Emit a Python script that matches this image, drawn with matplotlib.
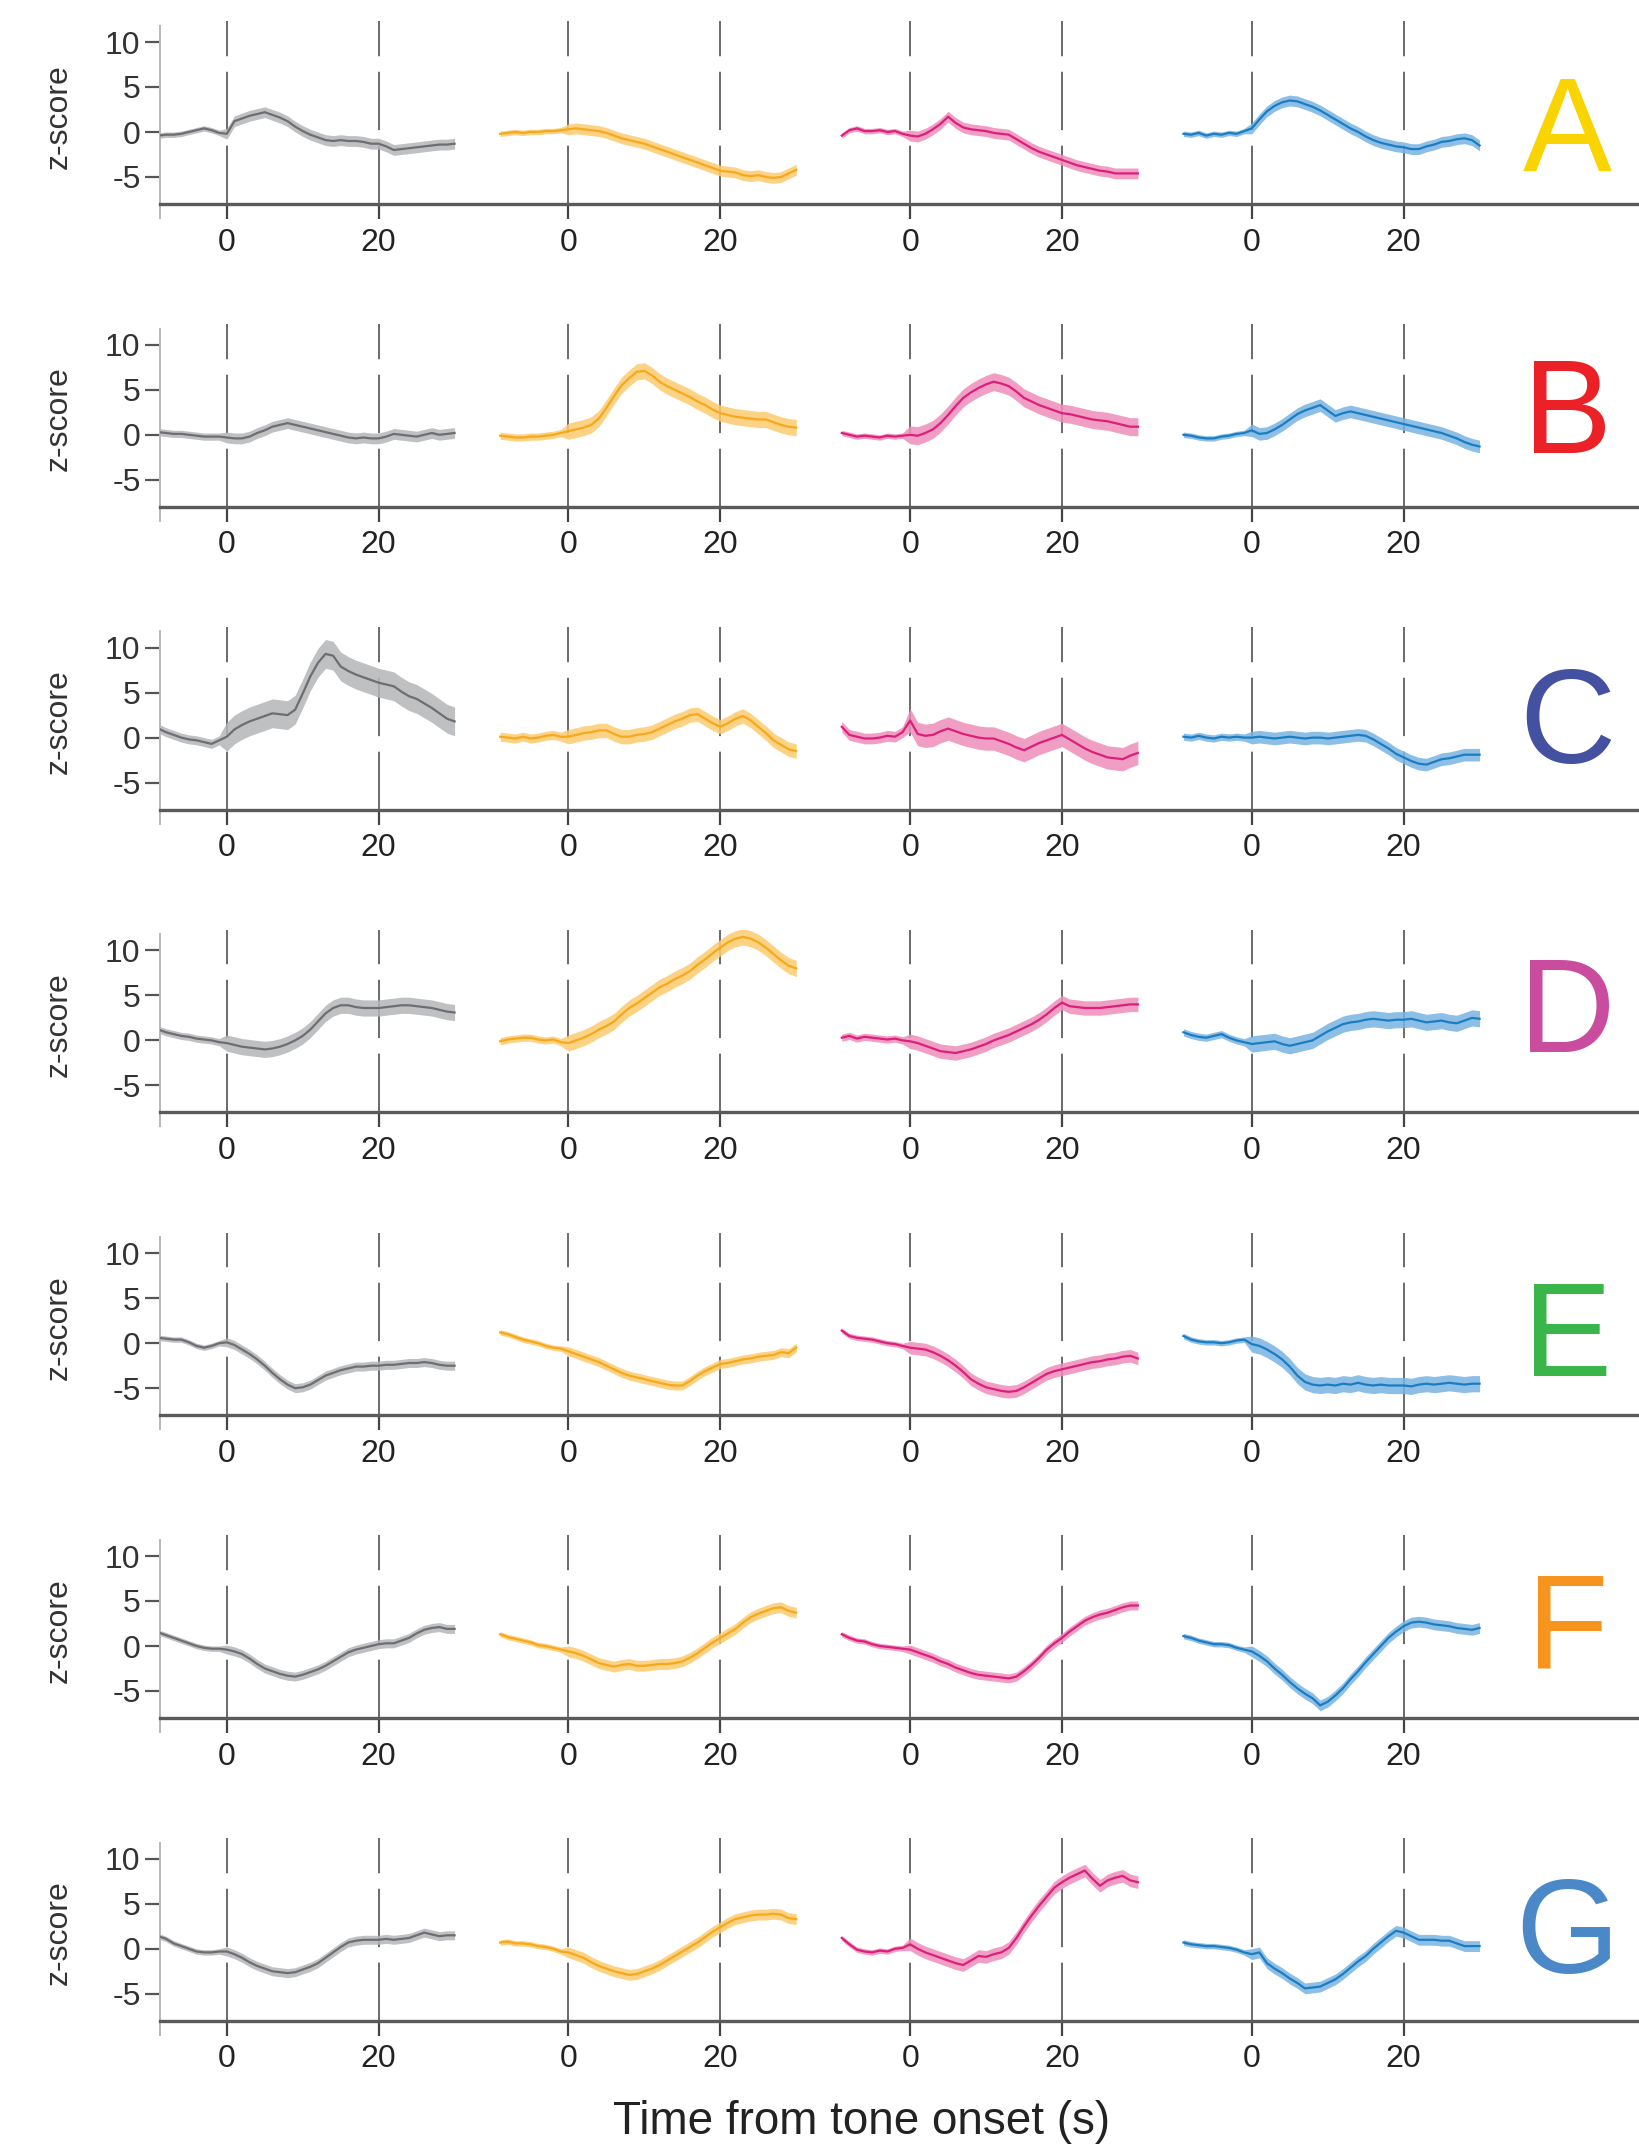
#!/usr/bin/env python3

import numpy as np
import matplotlib
matplotlib.use("Agg")
import matplotlib.pyplot as plt

plt.rcParams['font.family'] = ['Liberation Sans Narrow', 'Liberation Sans', 'DejaVu Sans']

# time axis of every trace (s from tone onset)
time_s = np.arange(-9, 31)

# mean z-score traces at 1 s steps (-9 .. 30)
gray_A = [-0.4, -0.3, -0.3, -0.2, 0.0, 0.2, 0.4, 0.2, -0.1, -0.2,
          1.2, 1.5, 1.8, 2.0, 2.2, 1.9, 1.6, 1.2, 0.6, 0.1,
          -0.3, -0.6, -0.9, -1.0, -0.9, -1.0, -1.0, -1.1, -1.3, -1.3,
          -1.6, -2.0, -1.9, -1.8, -1.7, -1.6, -1.5, -1.4, -1.4, -1.3]
yellow_A = [-0.2, -0.1, 0.0, -0.1, 0.0, 0.0, 0.1, 0.1, 0.2, 0.3,
            0.4, 0.3, 0.2, 0.1, -0.1, -0.4, -0.7, -0.9, -1.1, -1.3,
            -1.6, -1.9, -2.2, -2.5, -2.8, -3.1, -3.4, -3.7, -4.0, -4.3,
            -4.4, -4.5, -4.8, -4.9, -4.8, -5.0, -5.1, -5.0, -4.6, -4.2]
magenta_A = [-0.4, 0.2, 0.4, 0.1, 0.1, 0.2, 0.0, 0.1, -0.2, -0.4,
             -0.5, -0.2, 0.3, 0.9, 1.7, 1.0, 0.5, 0.3, 0.2, 0.1,
             -0.1, -0.2, -0.3, -0.8, -1.3, -1.8, -2.2, -2.5, -2.8, -3.1,
             -3.4, -3.7, -3.9, -4.1, -4.3, -4.4, -4.6, -4.6, -4.6, -4.6]
blue_A = [-0.2, -0.3, -0.1, -0.4, -0.2, -0.3, -0.1, -0.2, 0.1, 0.4,
          1.4, 2.3, 2.9, 3.3, 3.5, 3.4, 3.1, 2.8, 2.4, 1.9,
          1.4, 0.9, 0.4, 0.0, -0.5, -0.9, -1.2, -1.4, -1.6, -1.7,
          -1.9, -1.9, -1.6, -1.4, -1.1, -1.0, -0.8, -0.7, -0.9, -1.5]

gray_B = [0.3, 0.2, 0.1, 0.1, 0.0, -0.1, -0.2, -0.2, -0.2, -0.3,
          -0.4, -0.4, -0.2, 0.2, 0.5, 0.9, 1.1, 1.3, 1.1, 0.9,
          0.7, 0.5, 0.3, 0.1, -0.1, -0.3, -0.4, -0.3, -0.4, -0.4,
          -0.2, 0.1, 0.0, -0.1, -0.2, 0.0, 0.2, 0.0, 0.1, 0.2]
yellow_B = [-0.1, -0.2, -0.3, -0.3, -0.2, -0.2, -0.1, 0.0, 0.2, 0.4,
            0.6, 0.8, 1.1, 1.8, 3.0, 4.3, 5.5, 6.3, 7.0, 7.1,
            6.6, 5.9, 5.4, 5.0, 4.6, 4.2, 3.7, 3.3, 2.8, 2.4,
            2.2, 2.0, 1.9, 1.8, 1.7, 1.7, 1.4, 1.1, 0.9, 0.8]
magenta_B = [0.2, 0.0, -0.2, -0.1, -0.2, -0.3, -0.1, -0.2, -0.1, 0.0,
             -0.1, 0.2, 0.6, 1.3, 2.2, 3.2, 4.1, 4.7, 5.2, 5.6,
             5.9, 5.7, 5.4, 4.8, 4.1, 3.7, 3.3, 3.0, 2.7, 2.4,
             2.3, 2.1, 1.9, 1.7, 1.6, 1.5, 1.3, 1.1, 0.9, 0.9]
blue_B = [0.0, -0.1, -0.3, -0.4, -0.4, -0.2, -0.1, 0.1, 0.2, 0.5,
          0.1, 0.2, 0.6, 1.1, 1.7, 2.3, 2.7, 3.0, 3.3, 2.7,
          2.1, 2.4, 2.6, 2.4, 2.2, 2.0, 1.8, 1.6, 1.4, 1.2,
          1.0, 0.8, 0.6, 0.4, 0.2, -0.1, -0.4, -0.8, -1.1, -1.3]

gray_C = [1.0, 0.6, 0.3, 0.0, -0.2, -0.3, -0.5, -0.7, -0.3, 0.1,
          0.9, 1.4, 1.8, 2.1, 2.4, 2.7, 2.6, 2.5, 3.1, 4.9,
          6.8, 8.3, 9.3, 9.1, 7.9, 7.4, 7.0, 6.7, 6.4, 6.1,
          5.9, 5.7, 5.1, 4.6, 4.3, 3.8, 3.3, 2.7, 2.1, 1.8]
yellow_C = [0.1, 0.0, -0.1, 0.1, -0.1, 0.0, 0.2, 0.3, 0.1, 0.1,
            0.3, 0.5, 0.6, 0.8, 0.8, 0.4, 0.1, 0.1, 0.3, 0.4,
            0.6, 1.0, 1.4, 1.8, 2.1, 2.5, 2.6, 2.1, 1.6, 1.2,
            1.6, 2.1, 2.4, 1.9, 1.2, 0.5, -0.3, -0.8, -1.3, -1.5]
magenta_C = [1.2, 0.3, 0.1, -0.1, -0.1, 0.0, 0.2, 0.1, 0.6, 1.9,
             0.4, 0.2, 0.3, 0.7, 1.0, 0.7, 0.4, 0.2, 0.0, -0.1,
             -0.1, -0.4, -0.7, -1.1, -1.4, -1.0, -0.6, -0.3, 0.0, 0.3,
             -0.2, -0.7, -1.2, -1.6, -1.9, -2.2, -2.3, -2.4, -2.0, -1.7]
blue_C = [0.1, 0.0, 0.2, 0.0, -0.1, 0.1, 0.0, 0.1, 0.0, 0.0,
          0.1, 0.0, -0.1, 0.0, 0.1, 0.0, -0.1, 0.0, 0.0, -0.1,
          0.0, 0.1, 0.2, 0.3, 0.2, -0.2, -0.7, -1.2, -1.8, -2.2,
          -2.6, -2.9, -3.0, -2.7, -2.4, -2.3, -2.1, -1.9, -1.9, -1.9]

gray_D = [1.2, 0.9, 0.7, 0.5, 0.4, 0.2, 0.1, 0.0, -0.2, -0.3,
          -0.5, -0.7, -0.8, -0.9, -1.0, -0.9, -0.7, -0.4, 0.0, 0.5,
          1.2, 2.1, 3.0, 3.6, 3.9, 3.9, 3.7, 3.6, 3.6, 3.6,
          3.7, 3.8, 3.9, 3.9, 3.8, 3.7, 3.6, 3.4, 3.2, 3.1]
yellow_D = [-0.1, 0.1, 0.2, 0.3, 0.3, 0.1, 0.0, 0.1, -0.2, -0.3,
            0.0, 0.3, 0.7, 1.2, 1.6, 2.1, 2.9, 3.6, 4.1, 4.7,
            5.3, 5.9, 6.3, 6.8, 7.2, 7.7, 8.4, 9.0, 9.7, 10.3,
            10.9, 11.3, 11.5, 11.3, 10.9, 10.3, 9.6, 8.9, 8.3, 8.0]
magenta_D = [0.3, 0.5, 0.2, 0.4, 0.3, 0.2, 0.1, 0.2, 0.0, -0.1,
             -0.3, -0.6, -0.9, -1.2, -1.3, -1.4, -1.2, -1.0, -0.7, -0.4,
             0.0, 0.3, 0.6, 1.0, 1.4, 1.8, 2.3, 2.9, 3.6, 4.2,
             3.8, 3.7, 3.6, 3.6, 3.6, 3.7, 3.8, 3.9, 4.0, 4.0]
blue_D = [0.9, 0.6, 0.4, 0.3, 0.5, 0.7, 0.3, 0.0, -0.2, -0.4,
          -0.3, -0.2, -0.1, -0.4, -0.6, -0.4, -0.2, 0.0, 0.5, 1.0,
          1.4, 1.8, 2.0, 2.1, 2.3, 2.4, 2.3, 2.2, 2.3, 2.3,
          2.4, 2.2, 2.0, 2.1, 2.2, 2.0, 1.9, 2.2, 2.5, 2.4]

gray_E = [0.6, 0.5, 0.4, 0.4, 0.1, -0.3, -0.5, -0.3, 0.0, 0.1,
          -0.2, -0.7, -1.2, -1.8, -2.5, -3.3, -4.0, -4.6, -5.0, -4.9,
          -4.6, -4.1, -3.6, -3.3, -3.0, -2.8, -2.6, -2.6, -2.5, -2.5,
          -2.4, -2.4, -2.3, -2.2, -2.2, -2.1, -2.2, -2.4, -2.5, -2.5]
yellow_E = [1.2, 1.0, 0.7, 0.4, 0.2, 0.0, -0.3, -0.5, -0.6, -0.9,
            -1.2, -1.5, -1.8, -2.1, -2.5, -2.9, -3.3, -3.6, -3.8, -4.0,
            -4.2, -4.4, -4.6, -4.7, -4.7, -4.2, -3.6, -3.1, -2.7, -2.3,
            -2.2, -2.0, -1.8, -1.7, -1.5, -1.4, -1.3, -1.0, -1.1, -0.5]
magenta_E = [1.4, 0.8, 0.6, 0.5, 0.4, 0.2, 0.0, -0.1, -0.3, -0.5,
             -0.6, -0.7, -1.0, -1.4, -1.9, -2.5, -3.2, -4.0, -4.5, -4.9,
             -5.1, -5.3, -5.4, -5.3, -4.9, -4.4, -3.9, -3.4, -3.1, -2.9,
             -2.7, -2.5, -2.3, -2.1, -2.0, -1.8, -1.7, -1.5, -1.4, -1.7]
blue_E = [0.8, 0.4, 0.2, 0.1, 0.1, 0.0, 0.1, 0.3, 0.4, -0.1,
          -0.3, -0.7, -1.2, -1.8, -2.6, -3.6, -4.3, -4.6, -4.7, -4.6,
          -4.7, -4.5, -4.6, -4.4, -4.6, -4.7, -4.6, -4.7, -4.7, -4.7,
          -4.8, -4.6, -4.5, -4.6, -4.5, -4.4, -4.5, -4.6, -4.5, -4.5]

gray_F = [1.5, 1.2, 0.9, 0.6, 0.3, 0.0, -0.2, -0.3, -0.3, -0.4,
          -0.6, -0.9, -1.4, -2.0, -2.5, -2.8, -3.1, -3.3, -3.4, -3.2,
          -2.9, -2.6, -2.2, -1.7, -1.2, -0.7, -0.4, -0.2, 0.0, 0.2,
          0.3, 0.3, 0.6, 0.9, 1.4, 1.8, 2.0, 2.1, 1.9, 1.9]
yellow_F = [1.3, 1.0, 0.8, 0.6, 0.4, 0.1, 0.0, -0.2, -0.4, -0.6,
            -0.8, -1.1, -1.5, -1.9, -2.1, -2.3, -2.1, -2.0, -2.2, -2.2,
            -2.1, -2.0, -2.0, -1.9, -1.7, -1.3, -0.8, -0.2, 0.4, 0.9,
            1.4, 1.9, 2.6, 3.2, 3.6, 3.9, 4.2, 4.3, 3.9, 3.7]
magenta_F = [1.3, 0.9, 0.6, 0.5, 0.2, 0.0, -0.1, -0.2, -0.3, -0.4,
             -0.7, -1.0, -1.3, -1.7, -2.0, -2.4, -2.7, -3.0, -3.2, -3.3,
             -3.4, -3.5, -3.6, -3.4, -2.8, -2.1, -1.3, -0.4, 0.3, 0.9,
             1.6, 2.2, 2.8, 3.2, 3.5, 3.7, 4.0, 4.3, 4.5, 4.5]
blue_F = [1.1, 0.9, 0.6, 0.4, 0.2, 0.2, 0.1, -0.2, -0.4, -0.6,
          -1.1, -1.7, -2.5, -3.2, -4.0, -4.7, -5.3, -5.8, -6.6, -6.2,
          -5.5, -4.7, -3.7, -2.8, -1.8, -0.9, 0.0, 0.9, 1.6, 2.2,
          2.6, 2.7, 2.6, 2.4, 2.3, 2.2, 2.0, 1.9, 1.8, 2.0]

gray_G = [1.4, 1.1, 0.6, 0.3, 0.0, -0.3, -0.4, -0.4, -0.3, -0.3,
          -0.6, -1.0, -1.5, -1.9, -2.2, -2.5, -2.6, -2.7, -2.6, -2.3,
          -2.0, -1.6, -1.0, -0.4, 0.2, 0.7, 0.9, 1.0, 1.0, 1.0,
          1.1, 1.0, 1.1, 1.2, 1.5, 1.8, 1.6, 1.4, 1.5, 1.5]
yellow_G = [0.7, 0.8, 0.6, 0.6, 0.5, 0.3, 0.2, 0.0, -0.3, -0.4,
            -0.7, -1.0, -1.5, -1.9, -2.2, -2.5, -2.7, -2.9, -2.8, -2.5,
            -2.2, -1.8, -1.3, -0.8, -0.3, 0.2, 0.7, 1.3, 1.9, 2.4,
            2.9, 3.3, 3.5, 3.7, 3.8, 3.8, 3.9, 3.8, 3.4, 3.3]
magenta_G = [1.2, 0.5, -0.1, -0.3, -0.4, -0.2, -0.3, 0.0, 0.1, 0.5,
             0.0, -0.4, -0.7, -1.0, -1.3, -1.6, -1.8, -1.3, -0.8, -0.9,
             -0.6, -0.4, 0.1, 1.2, 2.5, 3.7, 4.8, 5.8, 6.8, 7.4,
             7.9, 8.3, 8.7, 7.8, 7.0, 7.6, 7.9, 8.1, 7.6, 7.4]
blue_G = [0.7, 0.5, 0.4, 0.3, 0.3, 0.2, 0.1, -0.1, -0.4, -0.6,
          -0.4, -1.6, -2.2, -2.7, -3.3, -3.8, -4.4, -4.3, -4.2, -3.8,
          -3.4, -2.8, -2.1, -1.4, -0.8, 0.0, 0.7, 1.4, 2.0, 1.8,
          1.4, 1.0, 1.0, 1.0, 0.9, 0.9, 0.6, 0.3, 0.3, 0.3]

# s.e.m. (before onset, after onset) for gray, yellow, magenta, blue
sem_A = [(0.3, 0.6), (0.3, 0.6), (0.3, 0.6), (0.3, 0.6)]
sem_B = [(0.4, 0.6), (0.4, 0.9), (0.3, 1.0), (0.3, 0.7)]
sem_C = [(0.5, 1.6), (0.5, 0.8), (0.6, 1.3), (0.4, 0.7)]
sem_D = [(0.4, 0.9), (0.4, 0.9), (0.4, 0.8), (0.4, 0.9)]
sem_E = [(0.3, 0.5), (0.3, 0.5), (0.3, 0.7), (0.3, 0.9)]
sem_F = [(0.3, 0.5), (0.3, 0.6), (0.3, 0.5), (0.3, 0.6)]
sem_G = [(0.3, 0.5), (0.3, 0.6), (0.3, 0.7), (0.3, 0.6)]

row_letters = ["A", "B", "C", "D", "E", "F", "G"]
letter_colors = ["#FAD400", "#EC2027", "#4450A0", "#C94C9E", "#3AB54A", "#F7941D", "#4A88C8"]
line_colors = ["#6D6E71", "#F7A81B", "#DC1F7C", "#1B7DC1"]
band_colors = ["#B4B5B8", "#FCCB6E", "#EE8DBA", "#79B4E2"]

traces = [
    [gray_A, yellow_A, magenta_A, blue_A],
    [gray_B, yellow_B, magenta_B, blue_B],
    [gray_C, yellow_C, magenta_C, blue_C],
    [gray_D, yellow_D, magenta_D, blue_D],
    [gray_E, yellow_E, magenta_E, blue_E],
    [gray_F, yellow_F, magenta_F, blue_F],
    [gray_G, yellow_G, magenta_G, blue_G],
]
sems = [sem_A, sem_B, sem_C, sem_D, sem_E, sem_F, sem_G]

SHIFT = 45.0          # horizontal offset between the 4 panels of a row
XMIN, XMAX = -8.8, 186.0
YMIN, YMAX = -8.0, 12.3
letter_y = [-0.5, 1.8, 1.0, 2.5, 0.2, 1.4, 1.1]   # vertical spot of row letters


def main():
    W, H = 1639, 2150
    fig = plt.figure(figsize=(W / 100, H / 100), dpi=100)

    left_px = 160
    height_px = (YMAX - YMIN) * 9.0
    ticks = []
    labels = []
    for k in range(4):
        ticks += [k * SHIFT, k * SHIFT + 20]
        labels += ["0", "20"]

    for i, letter in enumerate(row_letters):
        bottom_px = 204 + i * 302.8
        ax = fig.add_axes([left_px / W, 1 - bottom_px / H,
                           (W - left_px) / W, height_px / H])

        for k in range(4):
            vals = np.array(traces[i][k])
            pre, post = sems[i][k]
            err = np.where(time_s < 0, pre, post)
            x = time_s + k * SHIFT
            ax.fill_between(x, vals - err, vals + err, color=band_colors[k],
                            lw=0, alpha=0.85, zorder=2)
            ax.plot(x, vals, color=line_colors[k], lw=1.6, zorder=3)
            for t in (0, 20):
                ax.axvline(k * SHIFT + t, color="#6a6a6a", lw=1.4,
                           linestyle=(0, (30, 8)), zorder=1)

        ax.text(176.6, letter_y[i], letter, color=letter_colors[i], fontsize=96,
                ha="center", va="center", family=["Liberation Sans", "DejaVu Sans"])

        ax.set_xlim(XMIN, XMAX)
        ax.set_ylim(YMIN, YMAX)
        ax.set_xticks(ticks)
        ax.set_xticklabels(labels)
        ax.set_xticks([XMIN], minor=True)
        ax.set_yticks([-5, 0, 5, 10])
        ax.set_yticklabels(["-5", "0", "5", "10"])

        ax.spines["top"].set_visible(False)
        ax.spines["right"].set_visible(False)
        ax.spines["left"].set_color("#b8b8b8")
        ax.spines["left"].set_linewidth(1.4)
        ax.spines["left"].set_bounds(YMIN, 11.8)
        ax.spines["bottom"].set_color("#5a5a5a")
        ax.spines["bottom"].set_linewidth(2.4)

        ax.tick_params(axis="x", which="both", direction="out", length=11,
                       width=1.6, color="#444444", labelsize=23,
                       labelcolor="#222222", pad=6)
        ax.tick_params(axis="x", which="minor", color="#b8b8b8", width=1.4)
        ax.tick_params(axis="y", direction="out", length=11, width=1.6,
                       color="#555555", labelsize=23, labelcolor="#333333", pad=3)

        ax.set_ylabel("z-score", fontsize=23, color="#333333")
        ax.yaxis.set_label_coords(-0.058, 0.48)
        ax.patch.set_alpha(0)

    fig.text(862 / W, 1 - 2122 / H, "Time from tone onset (s)", fontsize=33,
             color="#222222", ha="center", va="center")

    fig.savefig("out.png", dpi=100)


if __name__ == "__main__":
    main()
